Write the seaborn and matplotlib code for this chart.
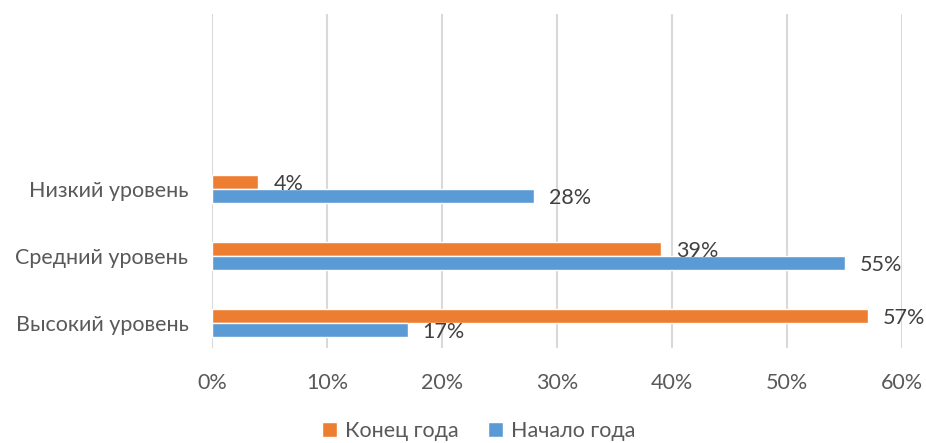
import matplotlib
matplotlib.use("Agg")
import matplotlib.pyplot as plt
import seaborn as sns
import pandas as pd
from matplotlib.ticker import PercentFormatter

categories = ["Низкий уровень", "Средний уровень", "Высокий уровень"]
series_names = ["Конец года", "Начало года"]
end_of_year = [0.04, 0.39, 0.57]
start_of_year = [0.28, 0.55, 0.17]
x_ticks = [0.0, 0.1, 0.2, 0.3, 0.4, 0.5, 0.6]

COLORS = {"Конец года": "#ED7D31", "Начало года": "#5B9BD5"}
TEXT = "#595959"
FS = 15.5

df = pd.DataFrame({
    "category": categories * 2,
    "series": [series_names[0]] * 3 + [series_names[1]] * 3,
    "value": end_of_year + start_of_year,
})

sns.set_style("white")
plt.rcParams["font.family"] = ["Lato", "DejaVu Sans"]

fig = plt.figure(figsize=(9.26, 4.43), dpi=100)
ax = fig.add_axes([212 / 926, 1 - 348 / 443, 690 / 926, 334 / 443])

sns.barplot(data=df, x="value", y="category", hue="series", order=categories,
            hue_order=series_names, palette=COLORS, orient="h", width=0.42,
            ax=ax, legend=True, saturation=1)

for cont in ax.containers:
    texts = ax.bar_label(cont, labels=[f"{v * 100:.0f}%" for v in cont.datavalues],
                         padding=11, fontsize=FS, color="#404040")
    for t in texts:
        x, y = t.xyann
        t.xyann = (x, y - 1.5)

ax.set_xlim(0, 0.6)
ax.set_ylim(2.373, -2.6)
ax.set_xticks(x_ticks)
ax.xaxis.set_major_formatter(PercentFormatter(1.0, decimals=0))
ax.grid(axis="x", color="#D9D9D9", linewidth=1.5)
ax.set_axisbelow(True)
for s in ax.spines.values():
    s.set_visible(False)
ax.tick_params(axis="both", length=0, labelsize=FS, labelcolor=TEXT)
ax.tick_params(axis="y", pad=17)
ax.tick_params(axis="x", pad=18)
ax.set_xlabel("")
ax.set_ylabel("")

handles, labels = ax.get_legend_handles_labels()
ax.legend_.remove()
fig.legend(handles, labels, loc="center", bbox_to_anchor=(0.517, 1 - 431 / 443),
           ncol=2, frameon=False, fontsize=FS, labelcolor=TEXT,
           handlelength=0.68, handleheight=0.68, handletextpad=0.35, columnspacing=1.4)

fig.savefig("out.png", dpi=100)
